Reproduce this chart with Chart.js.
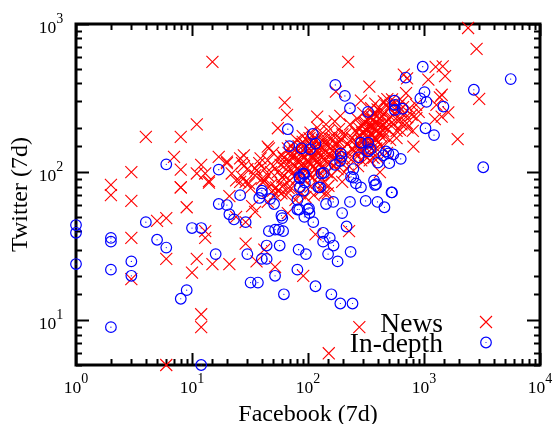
<!DOCTYPE html>
<html><head><meta charset="utf-8">
<style>html,body{margin:0;padding:0;background:#fff}canvas{display:block}</style>
<script src="https://cdn.jsdelivr.net/npm/chart.js@4"></script></head>
<body><canvas id="c" width="554" height="424"></canvas>
<script>
const xDecades=[1,10,100,1000,10000];
const yDecades=[10,100,1000];
const xTitle='Facebook (7d)';
const yTitle='Twitter (7d)';
const legendNames=['News','In-depth'];
const newsPoints=[[15,555],[63,295],[66,244],[55,198],[11,210],[8,173],[4,173],[7,127],[3,100],[8,104],[2,82],[8,79],[12,112],[11,98],[13,98],[14,87],[17,127],[20,115],[22,98],[26,124],[28,110],[24,88],[29,86],[39,124],[45,149],[36,103],
[2,70],[3,64],[8,79],[9,58],[5,47],[6,49],[3,36],[6,26],[11,26],[15,24],[21,24],[10,21],[3,19],[12,11],[12,9],[6,5],[13,40],[13,36],[14,85],[21,69],[29,33],[33,59],[35,54],[24,50],[29,46],[36,25],[42,30],[52,23],[91,20],[26,86],[31,84],[41,85],[50,75],[59,72],[53,79],[67,53],[45,63],
[2400,940],[2840,680],[2990,312],[1950,167],[222,555],[338,378],[174,350],[670,455],[715,430],[1090,421],[1260,513],[1450,518],[1520,445],[700,341],[1420,333],[1370,320],[1280,285],[1620,253],[1420,237],[1240,228],[860,232],[810,149],[710,214],[483,311],[286,304],[120,237],[855,285],[782,244],[580,170],[620,193],[417,100],[197,86],[150,81],[277,9],[151,6],[116,38],[226,40],[148,72],[46,145],[27,115],[20,118],[35,106],[27,93],
[55,100],[58,112],[60,92],[62,125],[65,105],[68,135],[70,88],[70,118],[72,150],[75,100],[75,130],[78,110],[80,165],[80,90],[82,140],[85,120],[85,100],[88,155],[90,175],[90,130],[92,108],[95,145],[95,88],[98,120],[100,160],[100,100],[103,135],[105,185],[105,112],[108,150],[110,92],[110,125],[113,170],[115,105],[118,140],[120,200],[120,118],[123,155],[125,95],[128,130],[130,180],[130,108],[135,145],[135,85],[138,165],[140,120],[143,210],[145,100],[148,150],[150,132],[150,190],[155,115],[160,170],[160,95],[165,140],[170,220],[170,125],[175,155],[180,105],[185,195],[185,135],[190,240],[195,165],[195,115],[200,145],[205,100],[210,180],[215,130],[220,155],[225,110],[230,210],[240,170],[245,125],[250,140],[255,190],[260,150],[265,230],[270,110],[280,175],[285,135],[290,205],[295,160],[300,250],[305,185],[310,130],[315,215],[320,145],[325,170],[330,195],[335,235],[340,120],[345,155],[350,270],[355,205],[360,180],[365,225],[370,140],[375,195],[380,290],[385,165],[390,240],[395,210],[400,125],[410,185],[415,260],[420,230],[430,150],[440,205],[450,300],[455,175],[460,250],[470,220],[480,135],[490,195],[500,270],[510,165],[520,235],[530,310],[540,210],[560,250],[580,190],[600,280],[620,225],[650,300],[680,250],[720,200],[750,270],[800,190],[900,255],
[40,90],[42,105],[45,120],[48,82],[50,135],[52,70],[35,95],[38,115],[55,75],[60,80],[65,70],[72,78],[78,65],[85,72],[95,68],[105,80],[112,70],[120,85],[128,75],[140,72],[32,78],[30,105],[28,130],
[60,130],[63,118],[67,145],[70,105],[73,125],[77,140],[77,95],[80,120],[83,150],[83,105],[87,135],[87,112],[90,160],[90,98],[93,125],[97,150],[97,108],[100,135],[100,118],[103,170],[103,95],[107,125],[107,140],[112,155],[112,110],[117,128],[117,165],[122,102],[122,140],[127,115],[127,150],[132,125],[132,165],[137,105],[137,135],[142,155],[147,115],[152,170],[157,130],[162,150],[167,110],[172,135],[177,175],[182,120],[187,160],[192,140],[198,180],[203,125],
[240,145],[250,165],[255,135],[262,185],[268,155],[272,200],[278,145],[283,165],[288,120],[292,185],[298,140],[302,215],[308,165],[312,195],[318,155],[323,125],[328,225],[332,175],[338,150],[342,205],[348,180],[352,235],[358,160],[362,200],[368,125],[372,245],[378,170],[382,215],[388,145],[392,190],[398,265],[405,160],[412,210],[425,175],[435,240],[445,190],[465,200],[475,280],[495,230],[515,285],[550,290],[570,230],[610,260],[640,210],[660,275],[700,235],
[45,95],[50,110],[55,125],[48,100],[42,88],[58,85],[62,95],[68,78]];
const indepthPoints=[[1,44],[1,39],[1,24],[2,36],[2,34],[2,22],[2,9],[3,25],[3,20],[4,46],[5,35],[6,31],[8,14],[9,16],[10,42],[12,42],[12,5],[16,28],[17,61],[20,60],[21,52],[23,48],[26,70],[29,46],[30,28],[32,18],[37,18],[38,67],[40,72],[40,26],[44,32],[44,26],[46,40],[47,66],[51,61],[52,41],[52,20],[56,41],[57,32],[59,51],[60,49],[61,40],[62,15],[81,65],[81,56],[84,56],[83,30],[81,22],[91,75],[93,50],[96,28],[100,56],
[111,46],[102,57],[103,53],[116,17],[143,61],[165,63],[230,63],[197,53],[314,64],[397,63],[456,58],[530,73],[215,43],[135,39],[135,34],[154,36],[166,32],[149,28],[233,29],[180,25],[159,15],[190,13],[242,13],
[5590,425],[2690,360],[3240,108],[975,515],[695,435],[1010,347],[930,315],[1050,298],[1470,277],[1030,198],[1220,178],[555,304],[560,285],[560,263],[655,268],[329,255],[230,270],[208,327],[172,388],[110,181],[116,156],[104,143],[88,145],[286,158],[330,158],[347,143],[330,138],[273,126],[191,134],[195,127],[189,119],[171,112],[137,99],[131,98],[246,105],[235,93],[246,92],[259,84],[286,79],[371,88],[386,83],[378,82],[525,73],[400,116],[446,130],[470,138],[493,134],[544,132],[502,115],[630,123],[91,98],[85,91],[94,85],[123,79],[127,79],[85,79],
[6,113],[17,104],[67,195],[69,150],[84,93],[93,97],[40,75]];
const pts=a=>a.map(p=>({x:p[0],y:p[1]}));
const serif='"Liberation Serif"';
const frame={id:'frame',
 beforeDatasetsDraw(ch){
  const g=ch.ctx,a=ch.chartArea,X=ch.scales.x,Y=ch.scales.y;
  g.save();g.strokeStyle='#000';g.lineWidth=2;
  const isDec=v=>Math.abs(Math.log10(v)-Math.round(Math.log10(v)))<1e-6;
  X.ticks.forEach(t=>{const p=Math.round(X.getPixelForValue(t.value))+.5,l=isDec(t.value)?12:6;
    g.beginPath();g.moveTo(p,a.bottom);g.lineTo(p,a.bottom-l);g.moveTo(p,a.top);g.lineTo(p,a.top+l);g.stroke();});
  Y.ticks.forEach(t=>{const p=Math.round(Y.getPixelForValue(t.value))+.5,l=isDec(t.value)?13:6;
    g.beginPath();g.moveTo(a.left,p);g.lineTo(a.left+l,p);g.moveTo(a.right,p);g.lineTo(a.right-l,p);g.stroke();});
  g.lineWidth=3;g.strokeRect(a.left,a.top,a.right-a.left,a.bottom-a.top);
  g.fillStyle='#000';
  const lab=(txt,sup,x,y)=>{
    g.font='17.5px '+serif;const w1=g.measureText(txt).width;
    g.font='14px '+serif;const w2=g.measureText(sup).width;
    const s=x-(w1+w2)/2;g.textAlign='left';g.textBaseline='alphabetic';
    g.font='17.5px '+serif;g.fillText(txt,s,y);
    g.font='14px '+serif;g.fillText(sup,s+w1,y-10);
  };
  xDecades.forEach(v=>lab('10',String(Math.round(Math.log10(v))),X.getPixelForValue(v),393));
  yDecades.forEach(v=>lab('10',String(Math.round(Math.log10(v))),51,Y.getPixelForValue(v)+9));
  g.restore();
 },
 afterDatasetsDraw(ch){
  const g=ch.ctx;g.save();g.fillStyle='#000';g.textAlign='right';g.textBaseline='alphabetic';
  g.font='27.5px '+serif;
  g.fillText(legendNames[0],443,332);g.fillText(legendNames[1],443,352);
  g.strokeStyle='#f00';g.lineWidth=1.1;g.beginPath();
  g.moveTo(480,316);g.lineTo(492,328);g.moveTo(492,316);g.lineTo(480,328);g.stroke();
  g.strokeStyle='#00f';g.lineWidth=1.2;g.beginPath();g.arc(486,342.5,5.3,0,7);g.stroke();
  g.fillStyle='#00f';g.beginPath();g.arc(486,342.5,.6,0,7);g.fill();
  g.restore();
 }};
new Chart(document.getElementById('c'),{type:'scatter',
 data:{datasets:[
  {label:legendNames[0],data:pts(newsPoints),order:3,pointStyle:'crossRot',pointRadius:8.5,pointBorderWidth:1.1,borderColor:'#ff0000',backgroundColor:'#ff0000',clip:false},
  {label:legendNames[1],data:pts(indepthPoints),order:2,pointStyle:'circle',pointRadius:5.3,pointBorderWidth:1.2,borderColor:'#0000ff',backgroundColor:'rgba(0,0,0,0)',clip:false},
  {label:legendNames[1]+' centre',data:pts(indepthPoints),order:1,pointStyle:'circle',pointRadius:.6,pointBorderWidth:0,borderColor:'#0000ff',backgroundColor:'#0000ff',clip:false}
 ]},
 options:{responsive:false,animation:false,
  layout:{padding:{top:24,right:14,left:0,bottom:0}},
  plugins:{legend:{display:false},tooltip:{enabled:false}},
  scales:{
   x:{type:'logarithmic',min:1,max:10000,grid:{display:false},border:{display:false},ticks:{display:false},
      title:{display:true,text:xTitle,font:{family:serif,size:24},color:'#000',padding:{top:0,bottom:-5.4}},
      afterFit(s){s.height=59;}},
   y:{type:'logarithmic',min:5,max:1000,grid:{display:false},border:{display:false},ticks:{display:false},
      title:{display:true,text:yTitle,font:{family:serif,size:24},color:'#000',padding:{top:6.6,bottom:0}},
      afterFit(s){s.width=76;}}
  }},
 plugins:[frame]});
</script></body></html>
